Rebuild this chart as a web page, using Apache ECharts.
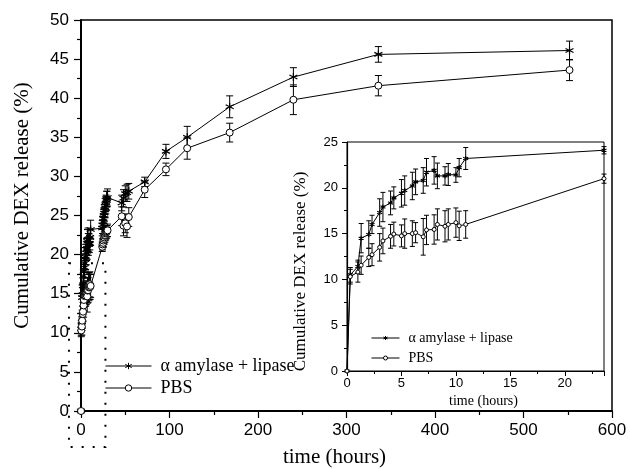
<!DOCTYPE html>
<html>
<head>
<meta charset="utf-8">
<script src="https://cdn.jsdelivr.net/npm/echarts@6/dist/echarts.min.js"></script>
<style>
  html, body { margin: 0; padding: 0; background: #fff; }
  #chart { width: 630px; height: 469px; }
</style>
</head>
<body>
<div id="chart"></div>
<script>
var SERIF = "'Liberation Serif', 'Times New Roman', serif";
var SANS = "'Liberation Sans', Arial, sans-serif";
var NAME_ENZ = "α amylase + lipase";
var NAME_PBS = "PBS";

// first 11 hours, used by the inset and by the main plot
var earlyTime = [0, 0.3, 1, 1.3, 2, 2.3, 3, 3.3, 4, 4.3, 5, 5.3, 6, 6.3, 7, 7.3, 8, 8.3, 9, 9.3, 10, 10.3, 10.9];
var earlyEnz = [0, 10.5, 11.4, 14.5, 14.9, 16.0, 17.3, 17.9, 18.35, 18.9, 19.4, 19.7, 20.2, 20.65, 20.8, 21.7, 21.9, 21.3, 21.3, 21.45, 21.4, 22.2, 23.2];
var earlyEnzErr = [0, 0.8, 0.7, 1.6, 1.5, 1.0, 1.5, 1.6, 1.3, 1.2, 1.5, 1.6, 1.5, 1.4, 1.4, 1.5, 1.5, 1.4, 1.0, 1.2, 0.8, 1.0, 1.2];
var earlyPbs = [0, 10.3, 10.8, 11.55, 12.4, 12.7, 13.5, 14.2, 14.7, 14.95, 14.75, 15.0, 15.0, 15.1, 14.65, 15.4, 15.45, 16.0, 15.8, 16.0, 16.2, 15.85, 16.0];
var earlyPbsErr = [0, 0.8, 1.1, 1.0, 1.0, 1.2, 1.5, 1.4, 1.3, 1.3, 1.2, 1.6, 1.4, 1.1, 2.0, 1.6, 1.6, 1.7, 1.7, 1.7, 1.6, 1.6, 1.5];

// last inset point (on the right edge of the inset)
var insetEndTime = [23.6];
var insetEndEnz = [24.1];
var insetEndEnzErr = [0.4];
var insetEndPbs = [21.0];
var insetEndPbsErr = [0.5];

// main plot after 11 hours
var lateTime = [24, 24.33, 25, 25.33, 26, 26.33, 27, 27.33, 28, 28.33, 29, 29.33, 30, 46, 48, 50, 52, 54, 72, 96, 120, 168, 240, 336, 552];
var lateEnz = [23.4, 23.8, 24.2, 24.6, 25.0, 25.3, 25.7, 26.0, 26.3, 26.6, 26.9, 27.1, 27.3, 26.6, 27.2, 27.8, 27.9, 28.1, 29.3, 33.2, 35.0, 38.9, 42.7, 45.6, 46.1];
var lateEnzErr = [1.0, 1.1, 1.0, 1.2, 1.0, 1.1, 1.0, 1.2, 1.1, 1.0, 1.2, 1.0, 1.1, 1.0, 1.1, 1.0, 1.1, 1.0, 0.6, 0.9, 1.4, 1.4, 1.2, 1.0, 1.2];
var latePbs = [21.0, 21.3, 21.5, 21.8, 22.0, 22.2, 22.4, 22.5, 22.7, 22.8, 22.9, 23.0, 23.1, 24.9, 23.7, 24.0, 23.6, 24.8, 28.3, 30.9, 33.6, 35.6, 39.8, 41.6, 43.6];
var latePbsErr = [0.6, 0.7, 0.6, 0.8, 0.7, 0.7, 0.8, 0.7, 0.8, 0.7, 0.8, 0.7, 0.8, 1.2, 1.3, 1.2, 1.4, 1.2, 1.0, 0.8, 1.4, 1.2, 1.9, 1.3, 1.35];

// dotted box marking the inset region, in main-plot data units
var zoomBoxFrom = [-13.6, 18.9];
var zoomBoxTo = [27.6, -4.6];

var STAR = 'path://M10,0L10,20M1.34,5L18.66,15M1.34,15L18.66,5';

function pairs(t, v) {
  return t.map(function (x, i) { return [x, v[i]]; });
}
function bars(t, v, e) {
  return t.map(function (x, i) { return [x, v[i] - e[i], v[i] + e[i]]; });
}

function errBar(cap) {
  return function (params, api) {
    var x = api.value(0), lo = api.value(1), hi = api.value(2);
    if (lo === hi) return null;
    var top = api.coord([x, hi]);
    var bot = api.coord([x, lo]);
    var st = { stroke: '#000', lineWidth: 1 };
    return {
      type: 'group',
      children: [
        { type: 'line', shape: { x1: top[0], y1: top[1], x2: bot[0], y2: bot[1] }, style: st },
        { type: 'line', shape: { x1: top[0] - cap / 2, y1: top[1], x2: top[0] + cap / 2, y2: top[1] }, style: st },
        { type: 'line', shape: { x1: bot[0] - cap / 2, y1: bot[1], x2: bot[0] + cap / 2, y2: bot[1] }, style: st }
      ]
    };
  };
}

var mainTime = earlyTime.concat(lateTime);
var mainEnz = earlyEnz.concat(lateEnz);
var mainEnzErr = earlyEnzErr.concat(lateEnzErr);
var mainPbs = earlyPbs.concat(latePbs);
var mainPbsErr = earlyPbsErr.concat(latePbsErr);

var insetTime = earlyTime.concat(insetEndTime);
var insetEnz = earlyEnz.concat(insetEndEnz);
var insetEnzErr = earlyEnzErr.concat(insetEndEnzErr);
var insetPbs = earlyPbs.concat(insetEndPbs);
var insetPbsErr = earlyPbsErr.concat(insetEndPbsErr);

function lineSeries(name, axis, data, symbol, size) {
  var isStar = symbol === STAR;
  return {
    type: 'line',
    name: name,
    xAxisIndex: axis,
    yAxisIndex: axis,
    data: data,
    symbol: symbol,
    symbolSize: size,
    showAllSymbol: true,
    lineStyle: { color: '#000', width: 1 },
    itemStyle: {
      color: isStar ? '#000' : '#fff',
      borderColor: '#000',
      borderWidth: isStar ? 1.2 : 1
    },
    z: 3,
    silent: true
  };
}

function barSeries(axis, data, cap) {
  return {
    type: 'custom',
    xAxisIndex: axis,
    yAxisIndex: axis,
    data: data,
    renderItem: errBar(cap),
    encode: { x: 0, y: [1, 2] },
    z: 2,
    silent: true
  };
}

var chart = echarts.init(document.getElementById('chart'));

chart.setOption({
  animation: false,
  grid: [
    { left: 81, right: 18, top: 20, bottom: 58, outerBoundsMode: 'none', show: true, borderColor: '#000', borderWidth: 1.5 },
    { left: 347, right: 26, top: 142, bottom: 98, outerBoundsMode: 'none', show: true, borderColor: '#000', borderWidth: 1 }
  ],
  xAxis: [
    {
      gridIndex: 0, type: 'value', min: 0, max: 600, interval: 100,
      name: 'time (hours)', nameLocation: 'middle', nameGap: 36,
      nameTextStyle: { fontFamily: SERIF, fontSize: 21, color: '#000', padding: [0, 24, 0, 0] },
      axisLine: { lineStyle: { color: '#000', width: 2 } },
      axisTick: { length: 7, lineStyle: { color: '#000', width: 1.2 } },
      minorTick: { show: true, splitNumber: 2, length: 4, lineStyle: { color: '#000', width: 1.2 } },
      axisLabel: { fontFamily: SANS, fontSize: 17, color: '#000', margin: 11 },
      splitLine: { show: false }
    },
    {
      gridIndex: 1, type: 'value', min: 0, max: 23.6, interval: 5,
      name: 'time (hours)', nameLocation: 'middle', nameGap: 23,
      nameTextStyle: { fontFamily: SERIF, fontSize: 14, color: '#000', padding: [0, 0, 0, 16] },
      axisLine: { lineStyle: { color: '#000', width: 1.2 } },
      axisTick: { length: 5, lineStyle: { color: '#000', width: 1 } },
      minorTick: { show: true, splitNumber: 2, length: 3, lineStyle: { color: '#000', width: 1 } },
      axisLabel: { fontFamily: SANS, fontSize: 13, color: '#000', margin: 6, showMaxLabel: false },
      splitLine: { show: false }
    }
  ],
  yAxis: [
    {
      gridIndex: 0, type: 'value', min: 0, max: 50, interval: 5,
      name: 'Cumulative DEX release (%)', nameLocation: 'middle', nameGap: 48,
      nameTextStyle: { fontFamily: SERIF, fontSize: 21, color: '#000', padding: [0, 0, 0, 20] },
      axisLine: { show: true, lineStyle: { color: '#000', width: 2 } },
      axisTick: { show: true, length: 7, lineStyle: { color: '#000', width: 1.2 } },
      minorTick: { show: true, splitNumber: 2, length: 4, lineStyle: { color: '#000', width: 1.2 } },
      axisLabel: { fontFamily: SANS, fontSize: 17, color: '#000', margin: 12 },
      splitLine: { show: false }
    },
    {
      gridIndex: 1, type: 'value', min: 0, max: 25, interval: 5,
      name: 'Cumulative DEX release (%)', nameLocation: 'middle', nameGap: 38,
      nameTextStyle: { fontFamily: SERIF, fontSize: 17, color: '#000', padding: [0, 30, 0, 0] },
      axisLine: { show: true, lineStyle: { color: '#000', width: 1.2 } },
      axisTick: { show: true, length: 5, lineStyle: { color: '#000', width: 1 } },
      minorTick: { show: true, splitNumber: 2, length: 3, lineStyle: { color: '#000', width: 1 } },
      axisLabel: { fontFamily: SANS, fontSize: 13, color: '#000', margin: 9 },
      splitLine: { show: false }
    }
  ],
  legend: [
    {
      left: 100, top: 352, orient: 'vertical', selectedMode: false,
      data: [NAME_ENZ, NAME_PBS],
      itemWidth: 46, itemHeight: 8, itemGap: 4,
      lineStyle: { width: 1 },
      itemStyle: { borderWidth: 1 },
      textStyle: { fontFamily: SERIF, fontSize: 18, color: '#000', lineHeight: 18, padding: [0, 0, 0, 4] }
    },
    {
      left: 366, top: 326, orient: 'vertical', selectedMode: false,
      data: [NAME_ENZ, NAME_PBS],
      itemWidth: 28, itemHeight: 5, itemGap: 6,
      lineStyle: { width: 1 },
      itemStyle: { borderWidth: 1 },
      textStyle: { fontFamily: SERIF, fontSize: 14, color: '#000', lineHeight: 14, padding: [0, 0, 0, 4] }
    }
  ],
  series: [
    barSeries(0, bars(mainTime, mainEnz, mainEnzErr), 7),
    barSeries(0, bars(mainTime, mainPbs, mainPbsErr), 7),
    lineSeries(NAME_ENZ, 0, pairs(mainTime, mainEnz), STAR, 8),
    lineSeries(NAME_PBS, 0, pairs(mainTime, mainPbs), 'circle', 7),
    barSeries(1, bars(insetTime, insetEnz, insetEnzErr), 5),
    barSeries(1, bars(insetTime, insetPbs, insetPbsErr), 5),
    lineSeries(NAME_ENZ, 1, pairs(insetTime, insetEnz), STAR, 5),
    lineSeries(NAME_PBS, 1, pairs(insetTime, insetPbs), 'circle', 4)
  ]
});

// dotted box around the early region of the main plot
var p0 = chart.convertToPixel({ gridIndex: 0 }, zoomBoxFrom);
var p1 = chart.convertToPixel({ gridIndex: 0 }, zoomBoxTo);
chart.setOption({
  graphic: [{
    type: 'rect',
    silent: true,
    z: 10,
    shape: { x: p0[0], y: p0[1], width: p1[0] - p0[0], height: p1[1] - p0[1] },
    style: { fill: null, stroke: '#000', lineWidth: 2, lineDash: [2, 9] }
  }]
});
</script>
</body>
</html>
